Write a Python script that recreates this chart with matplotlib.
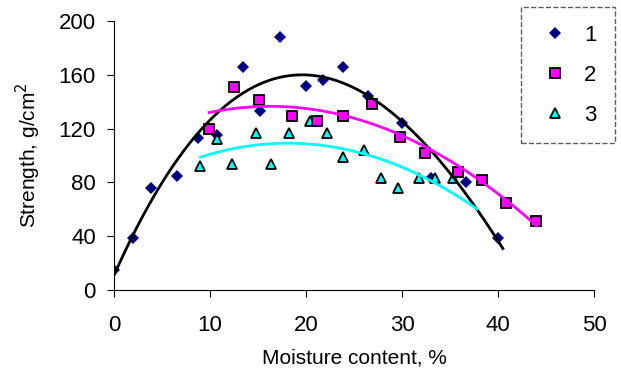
import numpy as np
import matplotlib
matplotlib.use("Agg")
import matplotlib.pyplot as plt

plt.rcParams['font.family'] = ['Liberation Sans', 'DejaVu Sans']

# series 1 - diamonds
x1 = [0, 2, 3.9, 6.6, 8.7, 10.7, 13.4, 15.2, 17.3, 20, 21.8, 23.8, 26.5, 30, 33.0, 36.7, 40]
y1 = [15, 39, 76, 85, 113, 115, 166, 133, 188, 152, 156, 166, 144, 124, 83, 80, 39]
# series 2 - squares
x2 = [9.9, 12.5, 15.1, 18.5, 21.1, 23.9, 26.9, 29.8, 32.4, 35.8, 38.3, 40.8, 44]
y2 = [120, 151, 141, 129, 126, 129, 138, 114, 102, 88, 82, 65, 51]
# series 3 - triangles
x3 = [9.0, 10.7, 12.3, 14.8, 16.4, 18.2, 20.4, 22.2, 23.9, 26, 27.8, 29.6, 31.8, 33.4, 35.3]
y3 = [92, 112, 94, 117, 94, 117, 126, 117, 99, 104, 83, 76, 83, 83, 83]

fig = plt.figure(figsize=(6.21, 3.76), dpi=100)
ax = fig.add_axes([0.1836, 0.2287, 0.773, 0.7155])

ax.plot(x1, y1, 'D', color='#000080', markersize=6.5, markeredgewidth=0, label='1', zorder=2)
ax.plot(x3, y3, '^', color='#00ffff', markersize=7, markeredgecolor='black', markeredgewidth=1.3, label='3', zorder=2)
ax.plot(x2, y2, 's', color='#ff00ff', markersize=6.5, markeredgecolor='black', markeredgewidth=1.3, label='2', zorder=2)

# polynomial trendlines
t1 = np.linspace(0, 40.5, 200)
ax.plot(t1, np.polyval(np.polyfit(x1, y1, 3), t1), color='black', lw=2, zorder=3)
t2 = np.linspace(9.9, 44, 200)
ax.plot(t2, np.polyval(np.polyfit(x2, y2, 2), t2), color='#ff00ff', lw=2, zorder=3)
t3 = np.linspace(9.0, 37.8, 200)
ax.plot(t3, np.polyval(np.polyfit(x3, y3, 2), t3), color='#00ffff', lw=2, zorder=3)

ax.set_xlim(0, 50)
ax.set_ylim(0, 200)
ax.set_xticks(range(0, 51, 10))
ax.set_yticks(range(0, 201, 40))
ax.spines['top'].set_visible(False)
ax.spines['right'].set_visible(False)
ax.tick_params(labelsize=16, direction='out', length=5)
ax.tick_params(axis='x', pad=13)
ax.tick_params(axis='y', pad=8)
ax.set_xlabel('Moisture content, %', fontsize=15, labelpad=9)
ax.set_ylabel('Strength, g/cm$^2$', fontsize=15, labelpad=11)

# legend order 1, 2, 3
h, l = ax.get_legend_handles_labels()
order = [0, 2, 1]
leg = fig.legend([h[i] for i in order], [l[i] for i in order],
                 loc='upper left', bbox_to_anchor=(0.839, 0.981), fontsize=16,
                 frameon=True, fancybox=False, edgecolor='#333333', borderaxespad=0,
                 borderpad=0.8, labelspacing=0.85, handletextpad=0.55, handlelength=1.5)
leg.get_frame().set_linestyle('--')
leg.get_frame().set_linewidth(1)

fig.savefig('out.png', dpi=100)
